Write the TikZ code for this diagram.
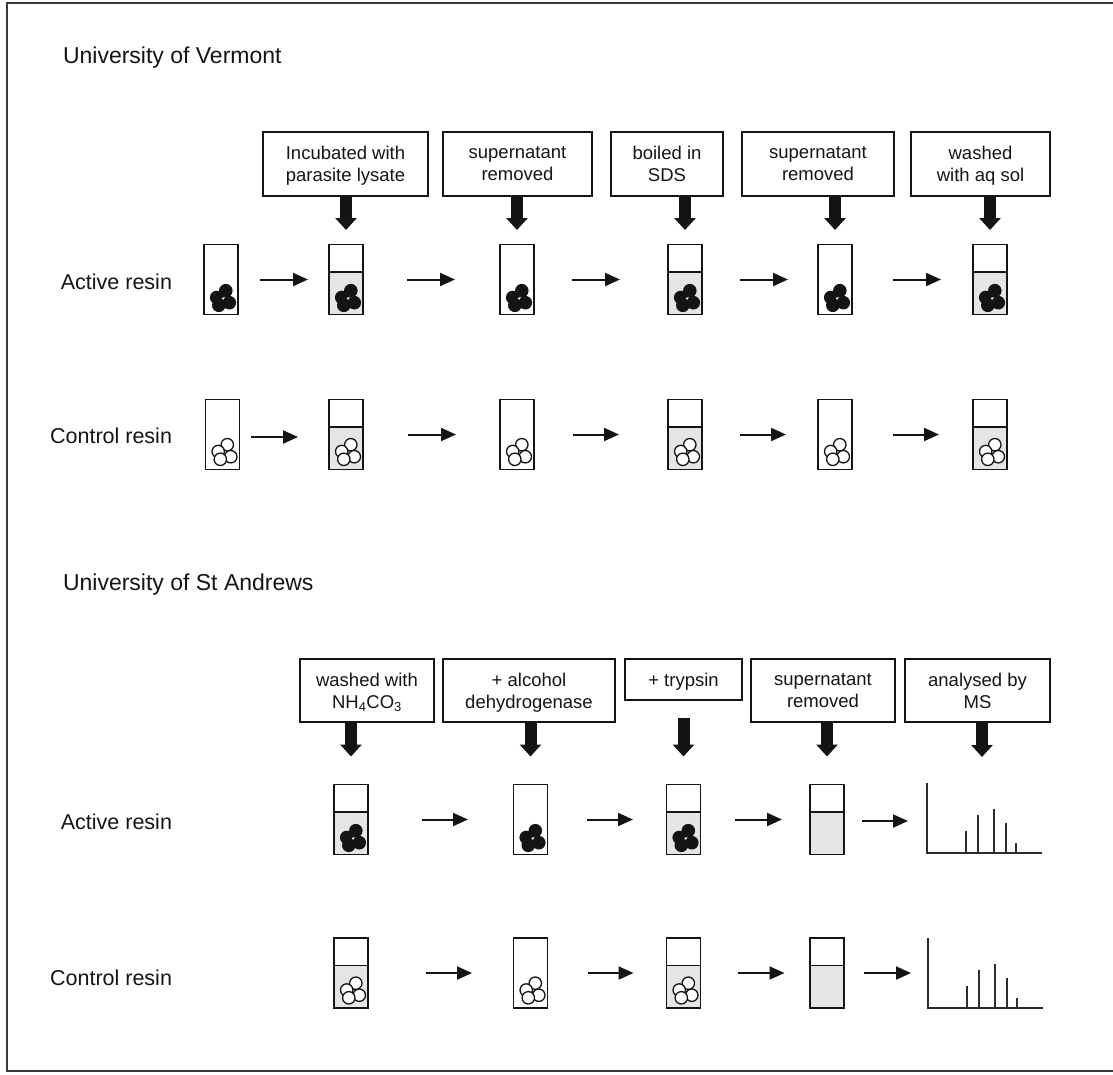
\documentclass[tikz,border=0pt]{standalone}
\usepackage{fontspec}
\setmainfont{Liberation Sans}
\usetikzlibrary{arrows.meta,calc}
\definecolor{ink}{gray}{0.08}
\definecolor{liquid}{gray}{0.9}

\begin{document}
\begin{tikzpicture}[x=1pt,y=-1pt,
  every node/.style={inner sep=0pt, outer sep=0pt},
  title/.style={anchor=base west, font=\fontsize{23}{27}\selectfont, text=ink},
  rowlabel/.style={anchor=base east, font=\fontsize{21.5}{25}\selectfont, text=ink},
  stepbox/.style={draw=ink, line width=1.8pt, minimum height=64pt, align=center,
    text depth=0pt, font=\fontsize{18.5}{22}\selectfont, text=ink},
  tubebox/.style={draw=ink, line width=1.8pt, minimum width=34pt, minimum height=70pt},
  withliquid/.style={path picture={
      \fill[liquid] ([yshift=-27.5pt]path picture bounding box.north west)
        rectangle (path picture bounding box.south east);
      \draw[ink, line width=1.8pt] ([yshift=-27.5pt]path picture bounding box.north west)
        -- ([yshift=-27.5pt]path picture bounding box.north east);}},
  specbox/.style={minimum width=115pt, minimum height=70pt},
  thinarrow/.style={draw=ink, line width=2pt, -{Triangle[length=15pt,width=13pt]}},
  fatarrow/.style={draw=ink, line width=12pt, -{Triangle[length=12pt,width=21pt]}},
  gap/.style 2 args={shorten <=#1pt, shorten >=#2pt},
  darkbeads/.pic={
    \foreach \a/\b in {2.8/-7.8,-6.3/-1,6.3/4.2,-4.2/6.8} \fill[ink] (\a,\b) circle[radius=6.8];
    \fill[white] (0,0) circle[radius=1.2];},
  lightbeads/.pic={
    \foreach \a/\b in {2.8/-7.8,-6.3/-1,6.3/4.2,-4.2/6.8}
      \filldraw[fill=white, draw=ink, line width=1.3pt] (\a,\b) circle[radius=6.2];},
]
\useasboundingbox (0,0) rectangle (1113,1074);

% frame
\draw[ink!85, line width=2.5pt] (1113,3) -- (7,3) -- (7,1071) -- (1113,1071);

% ---------------- University of Vermont ----------------
\node[title] (vtitle) at (63,63) {University of Vermont};
\node[rowlabel] (vact) at (172,289) {Active resin};
\node[rowlabel] (vctl) at (172,443) {Control resin};

\node[stepbox, minimum width=165pt] (vb2) at (345.5,164) {Incubated with\\parasite lysate};
\node[stepbox, minimum width=149pt] (vb3) at (517.5,164) {supernatant\\removed};
\node[stepbox, minimum width=112pt] (vb4) at (667,164) {boiled in\\SDS};
\node[stepbox, minimum width=152pt] (vb5) at (818,164) {supernatant\\removed};
\node[stepbox, minimum width=139pt] (vb6) at (980.5,164) {washed\\with aq sol};

% active resin tubes
\node[tubebox] (va1) at (221,279.5) {};
\node[tubebox, withliquid] (va2) at (346,279.5) {};
\node[tubebox] (va3) at (517,279.5) {};
\node[tubebox, withliquid] (va4) at (685,279.5) {};
\node[tubebox] (va5) at (835,279.5) {};
\node[tubebox, withliquid] (va6) at (990,279.5) {};
\foreach \t in {va1,va2,va3,va4,va5,va6}
  \pic at ($(\t.south)+(2,-16)$) {darkbeads};

% control resin tubes
\node[tubebox] (vc1) at (222.5,434.5) {};
\node[tubebox, withliquid] (vc2) at (346,434.5) {};
\node[tubebox] (vc3) at (517,434.5) {};
\node[tubebox, withliquid] (vc4) at (685,434.5) {};
\node[tubebox] (vc5) at (835,434.5) {};
\node[tubebox, withliquid] (vc6) at (990,434.5) {};
\foreach \t in {vc1,vc2,vc3,vc4,vc5,vc6}
  \pic at ($(\t.south)+(2,-17)$) {lightbeads};

% step arrows
\foreach \b/\t in {vb2/va2,vb3/va3,vb4/va4,vb5/va5,vb6/va6}
  \draw[fatarrow, shorten >=14.5pt] (\t.north |- \b.south) -- (\t.north);

\draw[thinarrow, gap={22}{21}] (va1) -- (va2);
\draw[thinarrow, gap={44}{45}] (va2) -- (va3);
\draw[thinarrow, gap={38}{48}] (va3) -- (va4);
\draw[thinarrow, gap={38}{30}] (va4) -- (va5);
\draw[thinarrow, gap={41}{32}] (va5) -- (va6);

\draw[thinarrow, gap={11}{31}] (vc1.east |- 0,437) -- (vc2.west |- 0,437);
\draw[thinarrow, gap={45}{44}] (vc2) -- (vc3);
\draw[thinarrow, gap={39}{49}] (vc3) -- (vc4);
\draw[thinarrow, gap={38}{32}] (vc4) -- (vc5);
\draw[thinarrow, gap={41}{34}] (vc5) -- (vc6);

% ---------------- University of St Andrews ----------------
\node[title] (stitle) at (63,590) {University of St Andrews};
\node[rowlabel] (sact) at (172,829) {Active resin};
\node[rowlabel] (sctl) at (172,985) {Control resin};

\node[stepbox, minimum width=134pt, minimum height=63pt] (sb1) at (367,690.5) {washed with\\NH\textsubscript{4}CO\textsubscript{3}};
\node[stepbox, minimum width=172pt, minimum height=63pt] (sb2) at (529,690.5) {+ alcohol\\dehydrogenase};
\node[stepbox, minimum width=117pt, minimum height=41pt] (sb3) at (683.5,679.5) {+ trypsin};
\node[stepbox, minimum width=144pt, minimum height=63pt] (sb4) at (823,690.5) {supernatant\\removed};
\node[stepbox, minimum width=145pt, minimum height=63pt] (sb5) at (977.5,690.5) {analysed by\\MS};

% active resin tubes and spectrum
\node[tubebox, withliquid] (sa1) at (351,819.5) {};
\node[tubebox] (sa2) at (530.5,819.5) {};
\node[tubebox, withliquid] (sa3) at (683.5,819.5) {};
\node[tubebox, withliquid] (sa4) at (827,819.5) {};
\node[specbox] (ss) at (984.5,818) {};
\foreach \t in {sa1,sa2,sa3}
  \pic at ($(\t.south)+(2,-16)$) {darkbeads};

% control resin tubes and spectrum
\node[tubebox, withliquid] (sc1) at (351,973) {};
\node[tubebox] (sc2) at (530.5,973) {};
\node[tubebox, withliquid] (sc3) at (683.5,973) {};
\node[tubebox, withliquid] (sc4) at (827,973) {};
\node[specbox] (cs) at (985.5,973) {};
\foreach \t in {sc1,sc2,sc3}
  \pic at ($(\t.south)+(2,-17)$) {lightbeads};

% mass spectra: axes and peaks
\foreach \s in {ss,cs} {
  \draw[ink!90, line width=1.8pt] (\s.north west) -- (\s.south west) -- (\s.south east);
  \foreach \dx/\h in {39/22,51/38,67/44,79/30,89/10}
    \draw[ink!90, line width=1.5pt] ($(\s.south west)+(\dx,0)$) -- ++(0,-\h);
}

% step arrows
\foreach \b/\t in {sb1/sa1,sb2/sa2,sb4/sa4}
  \draw[fatarrow, shorten >=28pt] (\t.north |- \b.south) -- (\t.north);
\draw[fatarrow, shorten <=18pt, shorten >=28pt] (sa3.north |- sb3.south) -- (sa3.north);
\draw[fatarrow, shorten >=26pt] ([xshift=-2.5pt]ss.north |- sb5.south) -- ([xshift=-2.5pt]ss.north);

\draw[thinarrow, gap={54}{45.5}] (sa1) -- (sa2);
\draw[thinarrow, gap={39.5}{33.5}] (sa2) -- (sa3);
\draw[thinarrow, gap={34.5}{28}] (sa3) -- (sa4);
\draw[thinarrow, gap={18}{19}] (sa4.east |- 0,821) -- (ss.west |- 0,821);

\draw[thinarrow, gap={58}{41.5}] (sc1) -- (sc2);
\draw[thinarrow, gap={40}{33}] (sc2) -- (sc3);
\draw[thinarrow, gap={37}{25.5}] (sc3) -- (sc4);
\draw[thinarrow, gap={20}{17}] (sc4) -- (cs);
\end{tikzpicture}
\end{document}
